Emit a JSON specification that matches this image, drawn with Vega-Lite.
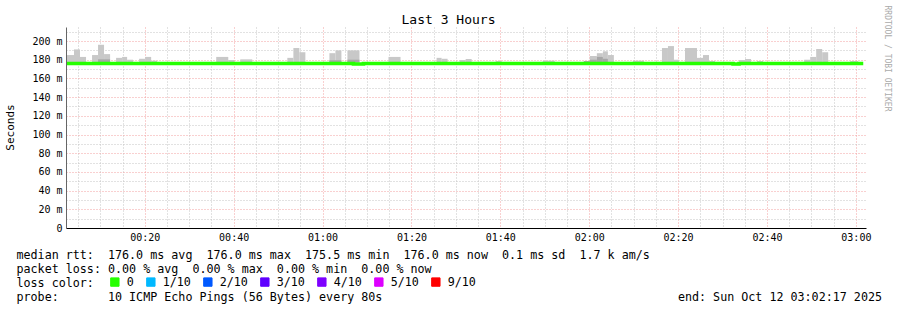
{
  "$schema": "https://vega.github.io/schema/vega-lite/v6.json",
  "width": 800,
  "height": 201,
  "autosize": {"type": "none"},
  "padding": {"left": 66, "top": 27, "right": 31, "bottom": 82},
  "background": "white",
  "config": {"view": {"stroke": null}},
  "datasets": {
    "smoke": [
      {"t0": 2.51, "t1": 4.08, "lo": 175.5, "hi": 185},
      {"t0": 4.08, "t1": 5.43, "lo": 175.5, "hi": 191},
      {"t0": 5.43, "t1": 6.79, "lo": 175.5, "hi": 183},
      {"t0": 8.14, "t1": 9.49, "lo": 175.5, "hi": 185},
      {"t0": 9.49, "t1": 10.84, "lo": 175.5, "hi": 196},
      {"t0": 10.84, "t1": 12.2, "lo": 175.5, "hi": 186},
      {"t0": 13.55, "t1": 14.9, "lo": 175.5, "hi": 182},
      {"t0": 14.9, "t1": 16.03, "lo": 175.5, "hi": 183},
      {"t0": 16.03, "t1": 17.38, "lo": 175.5, "hi": 180},
      {"t0": 18.73, "t1": 20.08, "lo": 175.5, "hi": 181},
      {"t0": 20.08, "t1": 21.44, "lo": 175.5, "hi": 183},
      {"t0": 21.44, "t1": 22.79, "lo": 175.5, "hi": 179},
      {"t0": 36.08, "t1": 38.79, "lo": 175.5, "hi": 183},
      {"t0": 38.79, "t1": 40.14, "lo": 175.5, "hi": 179.7},
      {"t0": 41.49, "t1": 44.19, "lo": 175.5, "hi": 180.4},
      {"t0": 52.08, "t1": 53.44, "lo": 175.5, "hi": 182},
      {"t0": 53.44, "t1": 54.79, "lo": 175.5, "hi": 192.5},
      {"t0": 54.79, "t1": 56.14, "lo": 175.5, "hi": 188},
      {"t0": 61.55, "t1": 62.9, "lo": 175.5, "hi": 187},
      {"t0": 62.9, "t1": 64.25, "lo": 175.5, "hi": 190},
      {"t0": 65.6, "t1": 68.31, "lo": 175.5, "hi": 190},
      {"t0": 74.84, "t1": 77.55, "lo": 175.5, "hi": 183},
      {"t0": 85.66, "t1": 86.79, "lo": 175.5, "hi": 182},
      {"t0": 86.79, "t1": 88.14, "lo": 175.5, "hi": 181},
      {"t0": 90.84, "t1": 92.2, "lo": 175.5, "hi": 179.7},
      {"t0": 92.2, "t1": 93.55, "lo": 175.5, "hi": 180.8},
      {"t0": 98.96, "t1": 100.31, "lo": 175.5, "hi": 178.6},
      {"t0": 109.55, "t1": 112.25, "lo": 175.5, "hi": 179},
      {"t0": 118.79, "t1": 120.14, "lo": 175.5, "hi": 178.6},
      {"t0": 120.14, "t1": 121.72, "lo": 175.5, "hi": 184},
      {"t0": 121.72, "t1": 123.07, "lo": 175.5, "hi": 187},
      {"t0": 123.07, "t1": 124.2, "lo": 175.5, "hi": 189},
      {"t0": 124.2, "t1": 125.55, "lo": 175.5, "hi": 185},
      {"t0": 129.83, "t1": 132.31, "lo": 175.5, "hi": 179},
      {"t0": 136.37, "t1": 137.72, "lo": 175.5, "hi": 192.5},
      {"t0": 137.72, "t1": 139.07, "lo": 175.5, "hi": 194.6},
      {"t0": 139.07, "t1": 140.2, "lo": 175.5, "hi": 180},
      {"t0": 141.55, "t1": 144.25, "lo": 175.5, "hi": 192.5},
      {"t0": 144.25, "t1": 145.61, "lo": 175.5, "hi": 182},
      {"t0": 145.61, "t1": 146.96, "lo": 175.5, "hi": 185},
      {"t0": 146.96, "t1": 148.31, "lo": 175.5, "hi": 178.6},
      {"t0": 153.72, "t1": 155.07, "lo": 175.5, "hi": 179.7},
      {"t0": 155.07, "t1": 156.42, "lo": 175.5, "hi": 180.8},
      {"t0": 157.77, "t1": 159.13, "lo": 175.5, "hi": 178.6},
      {"t0": 168.37, "t1": 169.72, "lo": 175.5, "hi": 180},
      {"t0": 169.72, "t1": 171.07, "lo": 175.5, "hi": 183},
      {"t0": 171.07, "t1": 172.42, "lo": 175.5, "hi": 191.5},
      {"t0": 172.42, "t1": 173.77, "lo": 175.5, "hi": 188},
      {"t0": 178.73, "t1": 180.53, "lo": 175.5, "hi": 178.6}
    ],
    "dark": [
      {"t0": 9.49, "t1": 12.2, "lo": 177.5, "hi": 180.4},
      {"t0": 61.55, "t1": 64.25, "lo": 177.5, "hi": 179.5},
      {"t0": 65.6, "t1": 68.31, "lo": 177.5, "hi": 180},
      {"t0": 118.79, "t1": 120.14, "lo": 177, "hi": 178.6},
      {"t0": 120.14, "t1": 121.72, "lo": 177.5, "hi": 180},
      {"t0": 121.72, "t1": 123.07, "lo": 177.5, "hi": 183},
      {"t0": 123.07, "t1": 124.2, "lo": 177.5, "hi": 181}
    ],
    "median": [
      {"t": 2.5, "v": 176.0, "loss": "0"},
      {"t": 66.96, "v": 175.5, "loss": "0"},
      {"t": 69.21, "v": 176.0, "loss": "0"},
      {"t": 152.37, "v": 175.5, "loss": "0"},
      {"t": 153.72, "v": 176.0, "loss": "0"},
      {"t": 181.66, "v": 176.0, "loss": "0"}
    ]
  },
  "resolve": {"axis": {"x": "independent", "y": "independent"}},
  "layer": [
    {
      "data": {"name": "smoke"},
      "mark": {"type": "rect", "color": "#c8c8c8"},
      "encoding": {
        "x": {
          "field": "t0", "type": "quantitative",
          "scale": {"domain": [2.28, 182.28], "nice": false, "zero": false},
          "axis": {
            "orient": "bottom",
            "values": [5,10,15,20,25,30,35,40,45,50,55,60,65,70,75,80,85,90,95,100,105,110,115,120,125,130,135,140,145,150,155,160,165,170,175,180],
            "grid": true,
            "gridColor": {"condition": {"test": "datum.value % 20 === 0", "value": "#f2a0a0"}, "value": "#c4c4c4"},
            "gridDash": [1, 2],
            "gridWidth": 1,
            "ticks": false,
            "domainColor": "#000000",
            "domainWidth": 1,
            "labelExpr": "datum.value % 20 === 0 ? (format(floor(datum.value/60),'02d') + ':' + format(datum.value%60,'02d')) : ''",
            "labelFont": "DejaVu Sans Mono",
            "labelFontSize": 10,
            "labelColor": "#000000",
            "labelPadding": 4,
            "labelFlush": false,
            "labelOverlap": false,
            "title": [
              "median rtt:\u00a0\u00a0176.0 ms avg\u00a0\u00a0176.0 ms max\u00a0\u00a0175.5 ms min\u00a0\u00a0176.0 ms now\u00a0\u00a00.1 ms sd\u00a0\u00a01.7 k am/s",
              "packet loss: 0.00 % avg\u00a0\u00a00.00 % max\u00a0\u00a00.00 % min\u00a0\u00a00.00 % now",
              "loss color:",
              "probe:\u00a0\u00a0\u00a0\u00a0\u00a0\u00a0\u00a010 ICMP Echo Pings (56 Bytes) every 80s\u00a0\u00a0\u00a0\u00a0\u00a0\u00a0\u00a0\u00a0\u00a0\u00a0\u00a0\u00a0\u00a0\u00a0\u00a0\u00a0\u00a0\u00a0\u00a0\u00a0\u00a0\u00a0\u00a0\u00a0\u00a0\u00a0\u00a0\u00a0\u00a0\u00a0\u00a0\u00a0\u00a0\u00a0\u00a0\u00a0\u00a0\u00a0\u00a0\u00a0\u00a0\u00a0end: Sun Oct 12 03:02:17 2025"
            ],
            "titleFont": "DejaVu Sans Mono",
            "titleFontSize": 11.7,
            "titleFontWeight": "normal",
            "titleColor": "#000000",
            "titleAlign": "left",
            "titleBaseline": "alphabetic",
            "titleX": -50,
            "titleY": 30,
            "titleLineHeight": 14
          }
        },
        "x2": {"field": "t1"},
        "y": {
          "field": "hi", "type": "quantitative",
          "scale": {"domain": [0, 215], "nice": false, "zero": true},
          "axis": {
            "orient": "left",
            "values": [0,10,20,30,40,50,60,70,80,90,100,110,120,130,140,150,160,170,180,190,200,210],
            "grid": true,
            "gridColor": {"condition": {"test": "datum.value % 20 === 0", "value": "#f2a0a0"}, "value": "#c4c4c4"},
            "gridDash": [1, 2],
            "gridWidth": 1,
            "ticks": false,
            "domainColor": "#666666",
            "domainWidth": 1,
            "labelExpr": "datum.value === 0 ? '0' : (datum.value % 20 === 0 ? datum.value + ' m' : '')",
            "labelFont": "DejaVu Sans Mono",
            "labelFontSize": 10,
            "labelColor": "#000000",
            "labelPadding": 4,
            "labelFlush": false,
            "labelOverlap": false,
            "title": "Seconds",
            "titleFont": "DejaVu Sans Mono",
            "titleFontSize": 11,
            "titleFontWeight": "normal",
            "titleColor": "#000000",
            "titleAngle": -90,
            "titleAlign": "center",
            "titleBaseline": "middle",
            "titleX": -56,
            "titleY": 100
          }
        },
        "y2": {"field": "lo"}
      }
    },
    {
      "data": {"name": "dark"},
      "mark": {"type": "rect", "color": "#a6a6a6"},
      "encoding": {
        "x": {"field": "t0", "type": "quantitative", "axis": null},
        "x2": {"field": "t1"},
        "y": {"field": "hi", "type": "quantitative", "axis": null},
        "y2": {"field": "lo"}
      }
    },
    {
      "data": {"name": "median"},
      "mark": {"type": "line", "interpolate": "step-after", "strokeWidth": 3.6, "strokeCap": "butt"},
      "encoding": {
        "x": {
          "field": "t", "type": "quantitative",
          "axis": {
            "orient": "top", "grid": false, "ticks": false, "labels": false, "domain": false,
            "title": "Last 3 Hours",
            "titleFont": "DejaVu Sans Mono",
            "titleFontSize": 13,
            "titleFontWeight": "normal",
            "titleColor": "#000000",
            "titleAlign": "center",
            "titleBaseline": "alphabetic",
            "titleX": 382,
            "titleY": -4
          }
        },
        "y": {
          "field": "v", "type": "quantitative",
          "axis": {
            "orient": "right", "grid": false, "ticks": false, "labels": false, "domain": false,
            "title": "RRDTOOL / TOBI OETIKER",
            "titleFont": "DejaVu Sans Mono",
            "titleFontSize": 8,
            "titleFontWeight": "normal",
            "titleColor": "#aaaaaa",
            "titleAngle": 90,
            "titleAlign": "left",
            "titleBaseline": "middle",
            "titleX": 20,
            "titleY": -22
          }
        },
        "color": {
          "field": "loss", "type": "nominal",
          "scale": {
            "domain": ["0", "1/10", "2/10", "3/10", "4/10", "5/10", "9/10"],
            "range": ["#26ff00", "#00b8ff", "#0059ff", "#5e00ff", "#7e00ff", "#dd00ff", "#ff0000"]
          },
          "legend": {
            "orient": "none",
            "legendX": 43,
            "legendY": 249,
            "direction": "horizontal",
            "title": null,
            "padding": 0,
            "symbolType": "square",
            "symbolSize": 70,
            "symbolStrokeColor": "#000000",
            "symbolStrokeWidth": 1,
            "labelFont": "DejaVu Sans Mono",
            "labelFontSize": 11.7,
            "labelColor": "#000000",
            "labelOffset": 6,
            "columnPadding": 10,
            "encode": {
              "symbols": {
                "update": {
                  "fill": {"scale": "color", "field": "value"},
                  "stroke": {"value": "#000000"},
                  "strokeWidth": {"value": 1},
                  "opacity": {"value": 1}
                }
              }
            }
          }
        }
      }
    }
  ]
}
